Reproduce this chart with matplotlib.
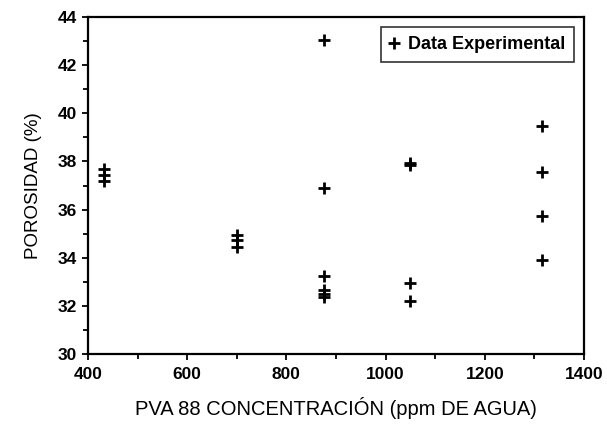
import matplotlib.pyplot as plt
from matplotlib.ticker import MultipleLocator

plt.rcParams['font.family'] = ['Liberation Sans', 'DejaVu Sans']

# datos
conc = [432, 432, 432,
        701, 701, 701,
        875, 875, 875, 875, 875, 875,
        1050, 1050, 1050, 1050,
        1315, 1315, 1315, 1315]
poros = [37.7, 37.45, 37.2,
         34.94, 34.75, 34.45,
         43.06, 36.88, 33.26, 32.64, 32.48, 32.36,
         37.95, 37.85, 32.94, 32.2,
         39.46, 37.55, 35.73, 33.92]

fig = plt.figure(figsize=(6.07, 4.24), dpi=100)
ax = fig.add_axes([0.145, 0.1651, 0.817, 0.7948])

ax.plot(conc, poros, linestyle='none', marker='+', markersize=9,
        markeredgewidth=2, color='black', label='Data Experimental')

ax.set_xlim(400, 1400)
ax.set_ylim(30, 44)
ax.xaxis.set_major_locator(MultipleLocator(200))
ax.xaxis.set_minor_locator(MultipleLocator(100))
ax.yaxis.set_major_locator(MultipleLocator(2))
ax.yaxis.set_minor_locator(MultipleLocator(1))

for s in ax.spines.values():
    s.set_linewidth(1.6)

ax.tick_params(axis='both', which='both', direction='out', width=1.3,
               top=False, right=False)
ax.tick_params(axis='both', which='major', length=4.5, labelsize=12.5)
ax.tick_params(axis='x', which='major', pad=5)
ax.tick_params(axis='y', which='major', pad=3.5)
ax.tick_params(axis='both', which='minor', length=3.5)
for lab in ax.get_xticklabels() + ax.get_yticklabels():
    lab.set_fontweight('bold')

ax.set_xlabel('PVA 88 CONCENTRACIÓN (ppm DE AGUA)', fontsize=14.5, labelpad=11)
ax.set_ylabel('POROSIDAD (%)', fontsize=13.5, labelpad=11)

leg = ax.legend(loc='upper right', fancybox=False, edgecolor='black',
                handlelength=0.5, handletextpad=0.5, borderpad=0.5,
                borderaxespad=0, prop={'weight': 'bold', 'size': 13},
                bbox_to_anchor=(0.98, 0.97))
leg.get_frame().set_linewidth(1.2)

fig.savefig('out.png', dpi=100)
